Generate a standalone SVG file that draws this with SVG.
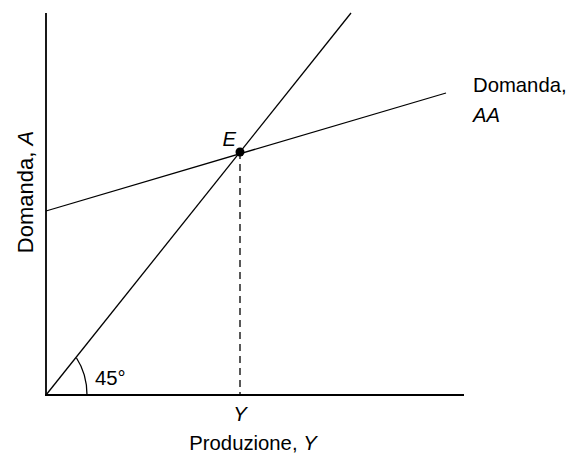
<svg xmlns="http://www.w3.org/2000/svg" width="566" height="455" viewBox="0 0 566 455">
<style>
.ax{stroke:#000;stroke-width:1.8;fill:none}
.ln{stroke:#000;stroke-width:1.3;fill:none}
.t{font-family:"Liberation Sans",Arial,sans-serif;font-size:20.3px;fill:#000}
.i{font-style:italic}
</style>
<rect width="566" height="455" fill="#fff"/>
<g id="axes">
<line class="ax" x1="46" y1="13" x2="46" y2="395"/>
<line class="ax" x1="45" y1="395" x2="464" y2="395"/>
</g>
<g id="connectors">
<line class="ln" x1="46" y1="395" x2="351" y2="13"/>
<line class="ln" x1="46" y1="211" x2="446" y2="93"/>
<line class="ln" x1="240" y1="152" x2="240" y2="395" stroke-dasharray="7,5"/>
<path class="ln" d="M87,395 Q87,374 76.5,358"/>
</g>
<g id="E">
<circle cx="240" cy="152" r="4.5" fill="#000"/>
<text class="t i" x="222.5" y="146">E</text>
</g>
<g id="labels">
<text class="t" x="95" y="385">45°</text>
<text class="t i" x="240" y="421" text-anchor="middle">Y</text>
<text class="t" x="253" y="450" text-anchor="middle">Produzione, <tspan class="i">Y</tspan></text>
<text class="t" x="473" y="92">Domanda,</text>
<text class="t i" x="473" y="122">AA</text>
<text class="t" transform="translate(32.5,192) rotate(-90)" text-anchor="middle" style="font-size:22px">Domanda, <tspan class="i">A</tspan></text>
</g>
</svg>
